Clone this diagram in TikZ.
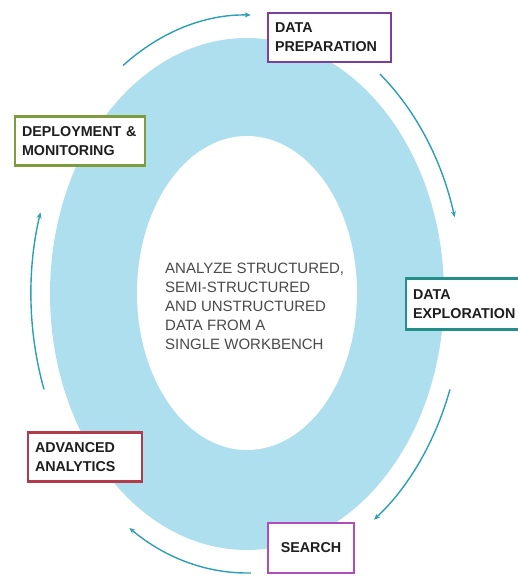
\documentclass[tikz,border=0pt]{standalone}
\usepackage{fontspec}
\setmainfont{Liberation Sans}
\usetikzlibrary{calc,arrows.meta}

\definecolor{ringblue}{HTML}{AEDFEF}
\definecolor{flowblue}{HTML}{2B9FB3}
\definecolor{prepcol}{HTML}{7D3F9C}
\definecolor{deploycol}{HTML}{7F9C3D}
\definecolor{explorecol}{HTML}{238F89}
\definecolor{advcol}{HTML}{B23A4A}
\definecolor{searchcol}{HTML}{B04DB8}
\definecolor{labeltext}{HTML}{1E1E1E}
\definecolor{centertext}{HTML}{4A4A4A}

\tikzset{
  stage/.style={draw, line width=2.2pt, fill=white, inner xsep=7pt, inner ysep=0pt,
    minimum height=49pt, align=left, text=labeltext,
    font=\fontsize{14.3}{19}\selectfont\bfseries},
  flow/.style={draw=flowblue, line width=1.4pt,
    -{Stealth[length=6pt,width=5pt]}},
}

\begin{document}
\begin{tikzpicture}[x=1pt,y=1pt]
\useasboundingbox (0,0) rectangle (518,576);
\clip (0,0) rectangle (518,576);

% ring
\coordinate (C) at (247,282);
\fill[ringblue] (C) ellipse[x radius=197pt, y radius=256pt];
\fill[white] (247,283) ellipse[x radius=110pt, y radius=157pt];

% central statement
\node[anchor=north west, align=left, inner sep=0pt, text=centertext,
  font=\fontsize{15}{19}\selectfont] (msg) at (165,313)
  {ANALYZE STRUCTURED,\\SEMI-STRUCTURED\\AND UNSTRUCTURED\\DATA FROM A\\SINGLE WORKBENCH};

% cycle arrows
\draw[flow] ($(C)+(125:216pt and 279pt)$) arc[start angle=125, end angle=89, x radius=216pt, y radius=279pt];
\draw[flow] ($(C)+(52:216pt and 279pt)$) arc[start angle=52, end angle=16, x radius=216pt, y radius=279pt];
\draw[flow] ($(C)+(-20:216pt and 279pt)$) arc[start angle=-20, end angle=-54, x radius=216pt, y radius=279pt];
\draw[flow] ($(C)+(-89:216pt and 279pt)$) arc[start angle=-89, end angle=-123, x radius=216pt, y radius=279pt];
\draw[flow] ($(C)+(200:216pt and 279pt)$) arc[start angle=200, end angle=163, x radius=216pt, y radius=279pt];

% stages
\node[stage, draw=prepcol, text width=109pt] (prep) at (329.5,538.5) {DATA\\PREPARATION};
\node[stage, draw=deploycol, text width=116pt] (deploy) at (80,435) {DEPLOYMENT \&\\MONITORING};
\node[stage, draw=explorecol, text width=130pt, anchor=west, minimum height=51pt] (explore) at (405,272) {DATA\\EXPLORATION};
\node[stage, draw=advcol, text width=100pt] (adv) at (85,119) {ADVANCED\\ANALYTICS};
\node[stage, draw=searchcol, text width=72pt, align=center, minimum height=50pt] (search) at (311,28) {SEARCH};
\end{tikzpicture}
\end{document}
